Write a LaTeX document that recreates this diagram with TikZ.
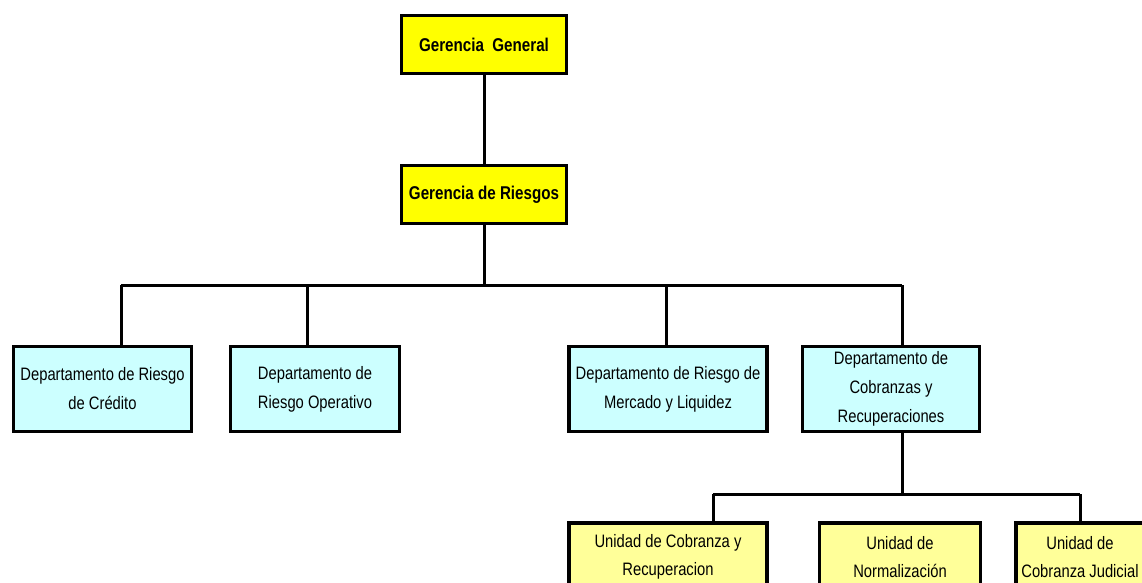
\documentclass[tikz,border=0pt]{standalone}
\usepackage{fontspec}
\setmainfont{Liberation Sans}[FakeStretch=0.82]

\definecolor{amarillo}{HTML}{FFFF00}
\definecolor{celeste}{HTML}{CCFFFF}
\definecolor{crema}{HTML}{FFFF99}

\begin{document}
\begin{tikzpicture}[x=1pt, y=-1pt, line width=3pt,
	caja/.style={draw, line width=3.5pt, align=center, inner sep=0pt},
	gerencia/.style={caja, fill=amarillo, minimum width=165pt, minimum height=58pt, font=\bfseries\fontsize{18.5}{22}\selectfont},
	depto/.style={caja, fill=celeste, minimum height=85pt, font=\fontsize{18}{29}\selectfont},
	unidad/.style={caja, fill=crema, minimum height=68pt, font=\fontsize{18}{28}\selectfont}]

	\useasboundingbox (0,0) rectangle (1142,582);

	%gerencias

	\node[gerencia] (gg) at (484,44.5) {Gerencia\ \ General};
	\node[gerencia] (gr) at (484,194.5) {Gerencia de Riesgos};
	\draw (gg) -- (gr);


	%departamentos

	\node[depto, minimum width=178pt] (d1) at (102.5,389) {Departamento de Riesgo\\de Cr\'edito};
	\node[depto, minimum width=169pt] (d2) at (315,389) {Departamento de\\Riesgo Operativo};
	\node[depto, minimum width=198pt] (d3) at (668,389) {Departamento de Riesgo de\\Mercado y Liquidez};
	\node[depto, minimum width=177pt] (d4) at (891,389) {Departamento de\\Cobranzas y\\Recuperaciones};

	\coordinate (bi) at (121,285);
	\coordinate (bd) at (902,285);
	\draw (gr.south) -- (gr.south |- bi);
	\draw (bi) -- (bd);
	\draw (bi) -- (bi |- d1.north);
	\draw (307,285) -- (307,285 |- d2.north);
	\draw (666,285) -- (666,285 |- d3.north);
	\draw (bd) -- (bd |- d4.north);


	%unidades

	\node[unidad, minimum width=198pt] (u1) at (668,557) {Unidad de Cobranza y\\Recuperacion};
	\node[unidad, minimum width=161pt] (u2) at (900,557) {Unidad de\\Normalizaci\'on};
	\node[unidad, minimum width=128pt] (u3) at (1080,557) {Unidad de\\Cobranza Judicial};

	\coordinate (ui) at (713,494);
	\coordinate (ud) at (1080,494);
	\draw (d4.south -| bd) -- (bd |- ui);
	\draw (ui) -- (ud);
	\draw (ui) -- (ui |- u1.north);
	\draw (ud) -- (ud |- u3.north);

\end{tikzpicture}
\end{document}
